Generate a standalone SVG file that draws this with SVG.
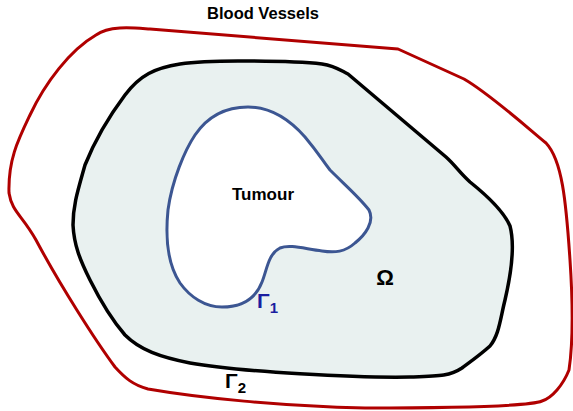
<svg xmlns="http://www.w3.org/2000/svg" width="573" height="411" viewBox="0 0 573 411">
<style>
text{font-family:"Liberation Sans",Arial,sans-serif;font-weight:bold}
.vessel{fill:none;stroke:#b00000;stroke-width:3;stroke-linejoin:round}
.domain{fill:#e9f1f0;stroke:#000;stroke-width:3.5;stroke-linejoin:round}
.tumour{fill:#fff;stroke:#3c5692;stroke-width:3}
</style>
<rect width="573" height="411" fill="#fff"/>
<g id="vessels">
<path class="vessel" d="M96,35 C110,25 135,28 150,29 L398,49 L464,79 C490,94 530,130 546,143 C562,160 566,200 570,260 C574,320 572,350 569,370 C563,385 552,398 542,401 C530,406 450,408 365,408 C280,406 200,398 148,389 C133,385 125,378 115,367 C95,340 60,285 36,240 C22,215 12,212 9,193 C8,160 18,140 30,115 C45,83 70,50 96,35 Z"/>
<text x="263" y="19" font-size="16.5" text-anchor="middle">Blood Vessels</text>
</g>
<g id="domain">
<path class="domain" d="M238,61 C280,61 305,62 322,64 C335,66 340,70 348,74 L446,157 C455,165 459,172 470,182 C490,198 504,212 510,226 C515,245 512,270 505,300 C500,320 499,335 490,346 C480,355 470,362 462,368 C450,376 440,376 410,377 C360,378 240,372 190,363 C160,357 140,350 125,335 C112,320 100,300 90,280 C80,260 74,245 73,225 C73,205 78,190 85,165 C95,140 110,115 125,95 C140,75 155,68 180,64 C200,61 220,61 238,61 Z"/>
<text x="385" y="285" font-size="22" text-anchor="middle">Ω</text>
<text x="225" y="388" font-size="21">Γ<tspan font-size="15" dy="5">2</tspan></text>
</g>
<g id="tumour">
<path class="tumour" d="M248,107 C270,107 290,120 305,137 C320,155 322,160 330,170 C345,185 360,198 369,210 C375,222 365,235 355,243 C345,252 335,253 322,251 C305,249 290,244 280,248 C268,254 267,270 262,282 C255,300 240,307 222,307 C205,307 190,297 180,283 C168,265 165,240 168,210 C172,180 185,150 195,135 C210,113 230,107 248,107 Z"/>
<text x="263" y="200" font-size="17" text-anchor="middle">Tumour</text>
<text x="257" y="308" font-size="21" fill="#1a1ea0">Γ<tspan font-size="15" dy="5">1</tspan></text>
</g>
<g id="connectors"/>
</svg>
